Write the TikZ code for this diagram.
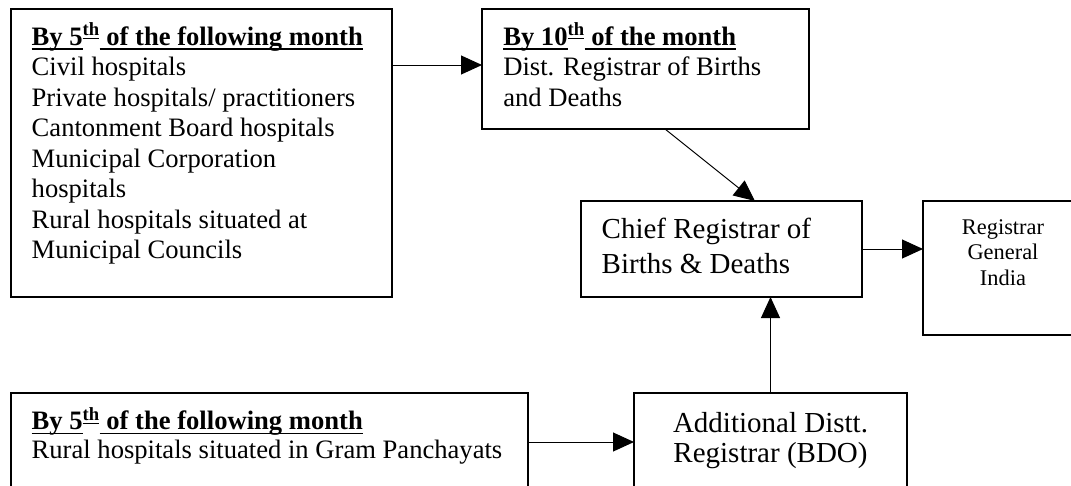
\documentclass[tikz,border=0pt]{standalone}
\usepackage{fontspec}
\setmainfont{Liberation Serif}
\usetikzlibrary{arrows.meta,calc}
% underline at a fixed depth below the baseline
\newcommand\myul[1]{\setbox0=\hbox{#1}\rlap{\rule[-0.17em]{\wd0}{0.055em}}\box0}
\newcommand\firstline{\rule{0pt}{26pt}}
\begin{document}
\begin{tikzpicture}[x=1pt,y=-1pt,
  box/.style={draw, line width=1.1pt, anchor=north west, inner sep=0pt, outer sep=0pt},
  txt/.style={anchor=north west, inner sep=0pt, outer sep=0pt, align=left},
  body/.style={font=\fontsize{26.6pt}{30.5pt}\selectfont},
  flow/.style={line width=1pt, -{Triangle[length=21pt,width=19pt]}}]
\clip (0,0) rectangle (1071,485);
\fill[white] (0,0) rectangle (1071,485);

% boxes
\node[box, minimum width=381pt, minimum height=288pt] (box1) at (11,9) {};
\node[box, minimum width=327pt, minimum height=120pt] (box2) at (482,9) {};
\node[box, minimum width=281pt, minimum height=96pt]  (chief) at (581,201) {};
\node[box, minimum width=160pt, minimum height=134pt] (rg) at (923,201) {};
\node[box, minimum width=517pt, minimum height=98pt]  (bot) at (11,393) {};
\node[box, minimum width=273pt, minimum height=98pt]  (bdo) at (634,393) {};

% texts
\node[txt, body] (t1) at ($(box1.north west)+(20.7,10)$) {%
  \textbf{\firstline\myul{By 5}\textsuperscript{\myul{th}}\myul{ of the following month}}\\
  Civil hospitals\\
  Private hospitals/ practitioners\\
  Cantonment Board hospitals\\
  Municipal Corporation\\
  hospitals\\
  Rural hospitals situated at\\
  Municipal Councils};
\node[txt, body] (t2) at ($(box2.north west)+(21.3,10)$) {%
  \textbf{\firstline\myul{By 10}\textsuperscript{\myul{th}}\myul{ of the month}}\\
  Dist. Registrar of Births\\
  and Deaths};
\node[txt, font=\fontsize{29pt}{35pt}\selectfont] (tc) at ($(chief.north west)+(20.7,11.3)$) {%
  \firstline Chief Registrar of\\
  Births \& Deaths};
\node[txt, anchor=north, align=center, font=\fontsize{22.4pt}{25.5pt}\selectfont] (trg) at ($(rg.north west)+(80,11.3)$) {%
  \rule{0pt}{22pt}Registrar\\
  General\\
  India};
\node[txt, font=\fontsize{26.6pt}{29pt}\selectfont] (tb) at ($(bot.north west)+(20.7,10.5)$) {%
  \textbf{\firstline\myul{By 5}\textsuperscript{\myul{th}}\myul{ of the following month}}\\
  Rural hospitals situated in Gram Panchayats};
\node[txt, anchor=north, align=center, font=\fontsize{29pt}{30pt}\selectfont] (tbdo) at ($(bdo.north)+(0,13)$) {%
  \firstline Additional Distt.\\
  Registrar (BDO)};

% connectors
\draw[flow] ($(box1.north east)+(0,56)$) -- ($(box2.north west)+(0,56)$);
\draw[flow] ($(box2.south west)+(183,0)$) -- ($(chief.north west)+(174,0)$);
\draw[flow] (chief.east) -- (chief.east -| rg.west);
\draw[flow] (bot.east) -- (bdo.west);
\draw[flow] (bdo.north) -- (bdo.north |- chief.south);
\end{tikzpicture}
\end{document}
